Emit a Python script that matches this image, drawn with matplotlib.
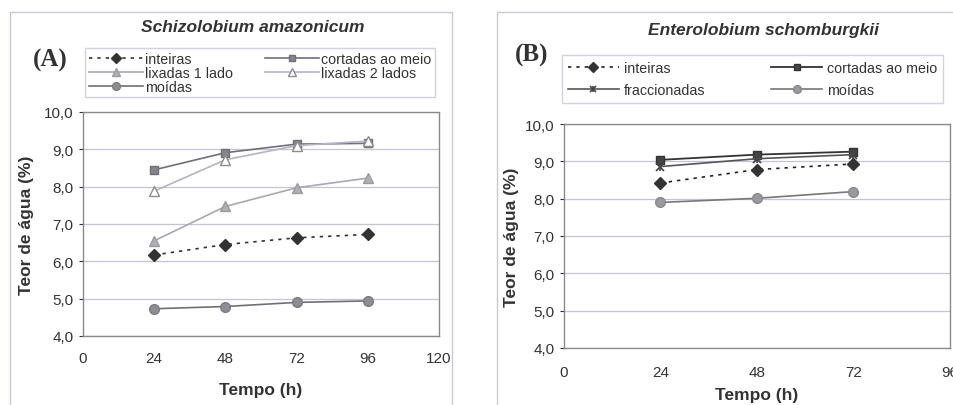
import matplotlib

matplotlib.use("Agg")
import matplotlib.pyplot as plt
from matplotlib.patches import Rectangle
from matplotlib.ticker import FuncFormatter

plt.rcParams["font.family"] = ["Liberation Sans", "DejaVu Sans"]

# Panel A - Schizolobium amazonicum
TEMPO_A = [24, 48, 72, 96]
A_INTEIRAS = [6.17, 6.45, 6.63, 6.72]
A_CORTADAS = [8.45, 8.91, 9.14, 9.16]
A_LIX1 = [6.55, 7.47, 7.97, 8.23]
A_LIX2 = [7.88, 8.72, 9.10, 9.22]
A_MOIDAS = [4.73, 4.79, 4.90, 4.94]

# Panel B - Enterolobium schomburgkii
TEMPO_B = [24, 48, 72]
B_INTEIRAS = [8.42, 8.78, 8.93]
B_CORTADAS = [9.04, 9.18, 9.26]
B_FRAC = [8.86, 9.07, 9.18]
B_MOIDAS = [7.90, 8.01, 8.19]

XTICKS_A = [0, 24, 48, 72, 96, 120]
XTICKS_B = [0, 24, 48, 72, 96]
YTICKS = [4, 5, 6, 7, 8, 9, 10]

W, H = 954, 406
fig = plt.figure(figsize=(W / 100, H / 100), dpi=100)


def fx(px):
    return px / W


def fy(py):
    return 1 - py / H


# chart-area frames (Excel style)
fig.patches.append(Rectangle((fx(10), fy(410)), fx(442), fy(13) - fy(410),
                             transform=fig.transFigure, fill=False,
                             edgecolor="#c9c9d6", linewidth=1.0))
fig.patches.append(Rectangle((fx(497), fy(410)), fx(470), fy(13) - fy(410),
                             transform=fig.transFigure, fill=False,
                             edgecolor="#c9c9d6", linewidth=1.0))

comma = FuncFormatter(lambda v, p: f"{v:.1f}".replace(".", ","))
TXT = "#333333"


def style_axes(ax, xticks, xmax, xpad):
    ax.set_xlim(0, xmax)
    ax.set_ylim(4, 10)
    ax.set_xticks(xticks)
    ax.set_yticks(YTICKS)
    ax.yaxis.set_major_formatter(comma)
    ax.yaxis.grid(True, color="#c4c4d4", linewidth=0.9)
    ax.set_axisbelow(True)
    for s in ax.spines.values():
        s.set_linestyle((0, (2, 1)))
        s.set_color("#8a8a8a")
        s.set_linewidth(1.0)
    ax.tick_params(axis="x", length=0, pad=xpad, labelsize=11, colors=TXT)
    ax.tick_params(axis="y", length=3, pad=4, labelsize=11, colors=TXT)


# ---- panel A ----
axA = fig.add_axes([fx(83), fy(337), fx(356), fy(113) - fy(337)])
style_axes(axA, XTICKS_A, 120, 11)
hA_int, = axA.plot(TEMPO_A, A_INTEIRAS, linestyle=(0, (2, 3)), color="#333333", lw=1.2,
                   marker="D", ms=6, mfc="#333333", mec="#333333")
hA_cor, = axA.plot(TEMPO_A, A_CORTADAS, color="#6f6f78", lw=1.2,
                   marker="s", ms=5.5, mfc="#85858c", mec="#6f6f78")
hA_l1, = axA.plot(TEMPO_A, A_LIX1, color="#a8a8b4", lw=1.2,
                  marker="^", ms=7.5, mfc="#b0b0b4", mec="#9a9a9f")
hA_l2, = axA.plot(TEMPO_A, A_LIX2, color="#b4b4c2", lw=1.2,
                  marker="^", ms=7.5, mfc="white", mec="#8c8c90")
hA_moi, = axA.plot(TEMPO_A, A_MOIDAS, color="#6f6f78", lw=1.2,
                   marker="o", ms=7, mfc="#8d8d92", mec="#7c7c82")
axA.set_ylabel("Teor de água (%)", fontsize=12.5, fontweight="bold", color=TXT, labelpad=7)
axA.set_xlabel("Tempo (h)", fontsize=12.5, fontweight="bold", color=TXT, labelpad=12)

legA = fig.legend([hA_int, hA_l1, hA_moi, hA_cor, hA_l2],
                  ["inteiras", "lixadas 1 lado", "moídas", "cortadas ao meio", "lixadas 2 lados"],
                  loc="upper left", bbox_to_anchor=(fx(85), fy(49)),
                  ncol=2, fontsize=10.3, handlelength=3.8, handletextpad=0.15,
                  labelspacing=0.0, borderpad=0.25, borderaxespad=0, columnspacing=2.2,
                  frameon=True, fancybox=False, markerscale=0.8)
legA.get_frame().set_edgecolor("#c9c9d6")
legA.get_frame().set_linewidth(1.0)
for t in legA.get_texts():
    t.set_color(TXT)

fig.text(fx(253), fy(27), "Schizolobium amazonicum", ha="center", va="center",
         fontsize=12.5, fontweight="bold", fontstyle="italic", color=TXT)
fig.text(fx(50), fy(60), "(A)", ha="center", va="center", fontsize=18,
         fontweight="bold", family="Liberation Serif", color=TXT)

# ---- panel B ----
axB = fig.add_axes([fx(564), fy(349), fx(386), fy(125) - fy(349)])
style_axes(axB, XTICKS_B, 96, 12)
hB_int, = axB.plot(TEMPO_B, B_INTEIRAS, linestyle=(0, (2, 3)), color="#222222", lw=1.2,
                   marker="D", ms=6, mfc="#333333", mec="#333333")
hB_cor, = axB.plot(TEMPO_B, B_CORTADAS, color="#333333", lw=1.3,
                   marker="s", ms=5.5, mfc="#444444", mec="#333333")
hB_frac, = axB.plot(TEMPO_B, B_FRAC, color="#555555", lw=1.2,
                    marker="x", ms=6, mew=1.2, mec="#444444")
hB_frac_plus, = axB.plot(TEMPO_B, B_FRAC, linestyle="none",
                         marker="|", ms=6, mew=1.2, mec="#444444")
hB_moi, = axB.plot(TEMPO_B, B_MOIDAS, color="#777777", lw=1.2,
                   marker="o", ms=7, mfc="#9a9a9e", mec="#8a8a8e")
axB.set_ylabel("Teor de água (%)", fontsize=12.5, fontweight="bold", color=TXT, labelpad=4)
axB.set_xlabel("Tempo (h)", fontsize=12.5, fontweight="bold", color=TXT, labelpad=6)

legB = fig.legend([hB_int, (hB_frac, hB_frac_plus), hB_cor, hB_moi],
                  ["inteiras", "fraccionadas", "cortadas ao meio", "moídas"],
                  loc="upper left", bbox_to_anchor=(fx(562), fy(56)),
                  ncol=2, fontsize=10.3, handlelength=3.6, handletextpad=0.3,
                  labelspacing=0.6, borderpad=0.4, borderaxespad=0, columnspacing=4.6,
                  frameon=True, fancybox=False, markerscale=0.8)
legB.get_frame().set_edgecolor("#c9c9d6")
legB.get_frame().set_linewidth(1.0)
for t in legB.get_texts():
    t.set_color(TXT)

fig.text(fx(764), fy(30), "Enterolobium schomburgkii", ha="center", va="center",
         fontsize=12.5, fontweight="bold", fontstyle="italic", color=TXT)
fig.text(fx(532), fy(55), "(B)", ha="center", va="center", fontsize=18,
         fontweight="bold", family="Liberation Serif", color=TXT)

fig.savefig("out.png", dpi=100)
